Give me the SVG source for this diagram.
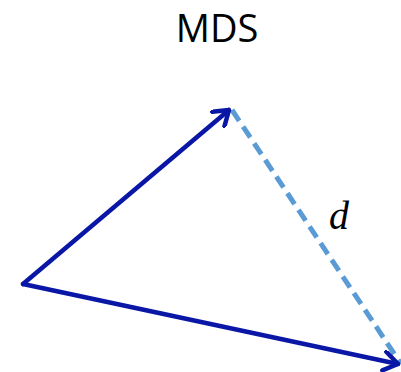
<svg xmlns="http://www.w3.org/2000/svg" width="401" height="372" viewBox="0 0 401 372">
<style>
.vec{stroke:#0A17A6;stroke-width:4.5;fill:none;stroke-linecap:round;stroke-linejoin:round}
.dist{stroke:#5B9BD5;stroke-width:5;fill:none;stroke-dasharray:13,7}
.title{font-family:"Open Sans","Liberation Sans",sans-serif;font-size:38px;fill:#000;text-anchor:middle}
.lbl{font-family:"Liberation Serif",serif;font-style:italic;font-size:40px;fill:#000}
</style>
<defs>
<marker id="head" viewBox="-16 -11 18 22" markerWidth="18" markerHeight="22" refX="0" refY="0" orient="auto" markerUnits="userSpaceOnUse">
<polyline points="-14,-9.5 0,0 -14,9.5" fill="none" stroke="#0A17A6" stroke-width="4.5" stroke-linecap="round" stroke-linejoin="round"/>
</marker>
</defs>
<text id="title" class="title" x="217" y="42">MDS</text>
<g id="connectors">
<line class="dist" x1="232" y1="110" x2="401" y2="364"/>
<line class="vec" x1="23" y1="284" x2="229" y2="110" marker-end="url(#head)"/>
<line class="vec" x1="23" y1="284" x2="398" y2="364" marker-end="url(#head)"/>
</g>
<g id="label-d"><text class="lbl" x="329" y="229">d</text></g>
</svg>
